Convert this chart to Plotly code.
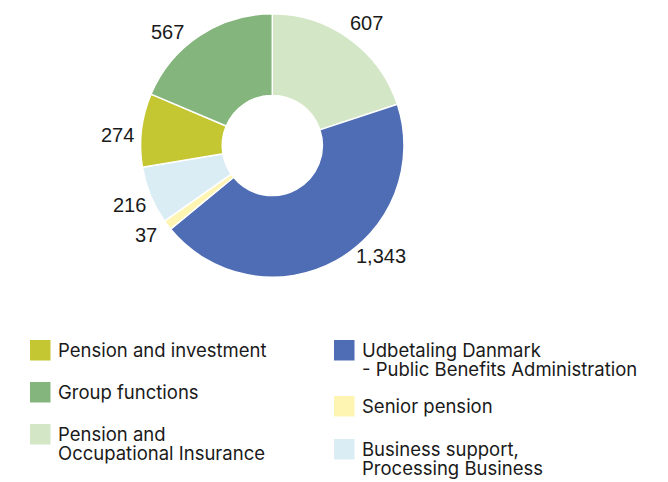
import math
import plotly.graph_objects as go

# Headcount by business area
segments = [
    "Pension and Occupational Insurance",
    "Udbetaling Danmark - Public Benefits Administration",
    "Senior pension",
    "Business support, Processing Business",
    "Pension and investment",
    "Group functions",
]
values = [607, 1343, 37, 216, 274, 567]
colors = ["#D3E6C6", "#4F6DB4", "#FFF5B3", "#DBEDF4", "#C4C731", "#84B57C"]

# Legend layout: (column, row-top, lines of text, colour index)
legend_items = [
    (0, 340, ["Pension and investment"], 4),
    (0, 382, ["Group functions"], 5),
    (0, 424, ["Pension and", "Occupational Insurance"], 0),
    (1, 340, ["Udbetaling Danmark", "- Public Benefits Administration"], 1),
    (1, 396, ["Senior pension"], 2),
    (1, 439, ["Business support,", "Processing Business"], 3),
]

W, H = 668, 482
CX, CY, R = 272.3, 145.5, 131.7
LABEL_FONT = "Liberation Sans, Arial, sans-serif"
LEGEND_FONT = "Inter, Liberation Sans, Arial, sans-serif"

fig = go.Figure()
fig.add_trace(go.Pie(
    labels=segments,
    values=values,
    sort=False,
    direction="clockwise",
    rotation=0,
    hole=0.38,
    marker=dict(colors=colors, line=dict(color="white", width=1.5)),
    textinfo="none",
    hoverinfo="label+value",
    showlegend=False,
    domain=dict(x=[(CX - R) / W, (CX + R) / W], y=[1 - (CY + R) / H, 1 - (CY - R) / H]),
))

# Value labels placed around the ring from each slice's mid-angle
label_shift = [1.7, -15.6, 1.8, -0.3, -2.8, -9.2]
label_radius = 155
total = sum(values)
annotations = []
shapes = []
cum = 0
for v, shift in zip(values, label_shift):
    mid = (cum + v / 2) / total * 360 + shift
    cum += v
    px = CX + label_radius * math.sin(math.radians(mid))
    py = CY - label_radius * math.cos(math.radians(mid))
    annotations.append(dict(
        x=px / W, y=1 - py / H, xref="paper", yref="paper",
        text=f"{v:,}", showarrow=False, xanchor="center", yanchor="middle",
        font=dict(family=LABEL_FONT, size=20, color="#1a1a1a"),
    ))

# Custom two-column legend
col_x = [30, 334]
sq = 20.5
line_gap = 19
for col, top, lines, ci in legend_items:
    x0 = col_x[col]
    shapes.append(dict(
        type="rect", xref="paper", yref="paper",
        x0=x0 / W, x1=(x0 + sq) / W, y0=1 - top / H, y1=1 - (top + sq) / H,
        fillcolor=colors[ci], line=dict(width=0),
    ))
    for i, line in enumerate(lines):
        ty = top + sq / 2 + i * line_gap
        annotations.append(dict(
            x=(x0 + 26) / W, y=1 - ty / H, xref="paper", yref="paper",
            text=line, showarrow=False, xanchor="left", yanchor="middle",
            font=dict(family=LEGEND_FONT, size=18.5, color="#1a1a1a"),
        ))

fig.update_layout(
    width=W, height=H,
    margin=dict(l=0, r=0, t=0, b=0),
    paper_bgcolor="white", plot_bgcolor="white",
    annotations=annotations, shapes=shapes,
)

fig.write_html("out.html")
